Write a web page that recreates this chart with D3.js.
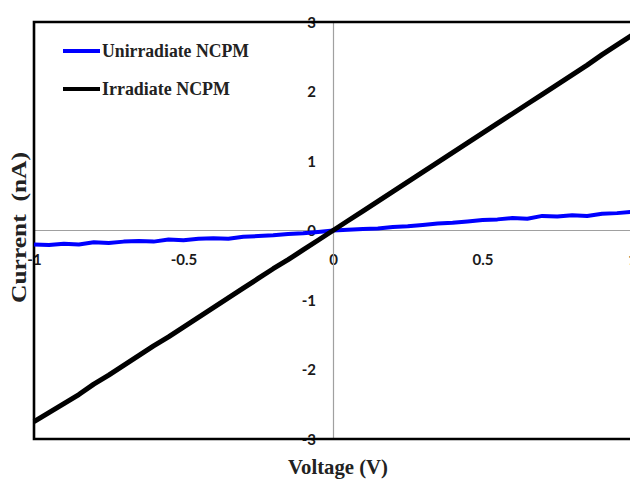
<!DOCTYPE html>
<html>
<head>
<meta charset="utf-8">
<script src="https://cdn.jsdelivr.net/npm/d3@7"></script>
<style>
  body { margin: 0; background: white; }
  svg { display: block; }
</style>
</head>
<body>
<svg id="chart" width="630" height="479"></svg>
<script>
const voltage = [-1.00, -0.95, -0.90, -0.85, -0.80, -0.75, -0.70, -0.65, -0.60, -0.55,
    -0.50, -0.45, -0.40, -0.35, -0.30, -0.25, -0.20, -0.15, -0.10, -0.05,
    0.00, 0.05, 0.10, 0.15, 0.20, 0.25, 0.30, 0.35, 0.40, 0.45,
    0.50, 0.55, 0.60, 0.65, 0.70, 0.75, 0.80, 0.85, 0.90, 0.95, 1.00];

const unirradiate = [-0.20, -0.21, -0.19, -0.20, -0.17, -0.18, -0.16, -0.15, -0.16, -0.13,
    -0.14, -0.12, -0.11, -0.12, -0.09, -0.08, -0.07, -0.05, -0.04, -0.02,
    0.00, 0.01, 0.02, 0.03, 0.05, 0.06, 0.08, 0.10, 0.11, 0.13,
    0.15, 0.16, 0.18, 0.17, 0.21, 0.20, 0.22, 0.21, 0.24, 0.25, 0.27];

const irradiate = [-2.75, -2.62, -2.49, -2.36, -2.21, -2.08, -1.94, -1.80, -1.66, -1.53,
    -1.39, -1.25, -1.11, -0.97, -0.83, -0.69, -0.55, -0.42, -0.28, -0.14,
    0.00, 0.14, 0.28, 0.42, 0.56, 0.70, 0.84, 0.98, 1.12, 1.26,
    1.40, 1.54, 1.68, 1.82, 1.96, 2.10, 2.24, 2.38, 2.53, 2.67, 2.81];

const xTicks = [-1, -0.5, 0, 0.5, 1];
const yTicks = [-3, -2, -1, 0, 1, 2, 3];

const seriesNames = ["Unirradiate NCPM", "Irradiate NCPM"];
const seriesColors = ["#0000ff", "#000000"];

const svg = d3.select("#chart");

const plotLeft = 34, plotTop = 22, plotBottom = 439, plotRight = 632;

const xScale = d3.scaleLinear().domain([-1, 1]).range([plotLeft, plotRight]);
const yScale = d3.scaleLinear().domain([-3, 3]).range([plotBottom, plotTop]);

// axes through the origin, plain hyphen minus like the original
const fmt = d => String(d);

const xAxis = svg.append("g")
    .attr("transform", `translate(0, ${yScale(0)})`)
    .call(d3.axisBottom(xScale).tickValues(xTicks).tickSize(0).tickPadding(24).tickFormat(fmt));

const yAxis = svg.append("g")
    .attr("transform", `translate(${xScale(0)}, 0)`)
    .call(d3.axisLeft(yScale).tickValues(yTicks).tickSize(0).tickPadding(17).tickFormat(fmt));

[xAxis, yAxis].forEach(g => {
    g.select(".domain").attr("stroke", "#a0a0a0").attr("stroke-width", 1.2);
    g.selectAll("text")
        .style("font-family", "Lato, 'Open Sans', sans-serif")
        .style("font-size", "15px")
        .style("font-weight", "bold")
        .attr("fill", "#1a1a1a");
});
xAxis.select(".domain").attr("d", `M${plotLeft},0H640`);
yAxis.selectAll("text").attr("dy", "0.36em");

// frame
svg.append("path")
    .attr("d", `M640,${plotTop}H${plotLeft}V${plotBottom}H640`)
    .attr("fill", "none")
    .attr("stroke", "black")
    .attr("stroke-width", 2.6);

const line = d3.line()
    .x((d, i) => xScale(voltage[i]))
    .y(d => yScale(d));

svg.append("path")
    .datum(unirradiate)
    .attr("d", line)
    .attr("fill", "none")
    .attr("stroke", seriesColors[0])
    .attr("stroke-width", 4)
    .attr("stroke-linejoin", "round");

svg.append("path")
    .datum(irradiate)
    .attr("d", line)
    .attr("fill", "none")
    .attr("stroke", seriesColors[1])
    .attr("stroke-width", 5)
    .attr("stroke-linejoin", "round");

// legend
const legendWidths = [147, 128];
const legend = svg.append("g");
seriesNames.forEach((name, i) => {
    const y = 51 + i * 38;
    legend.append("line")
        .attr("x1", 63).attr("x2", 100)
        .attr("y1", y).attr("y2", y)
        .attr("stroke", seriesColors[i])
        .attr("stroke-width", 4);
    legend.append("text")
        .attr("x", 102)
        .attr("y", y + 6)
        .attr("textLength", legendWidths[i])
        .attr("lengthAdjust", "spacingAndGlyphs")
        .style("font-family", "'Liberation Serif', 'Times New Roman', serif")
        .style("font-size", "18px")
        .style("font-weight", "bold")
        .attr("fill", "#222")
        .text(name);
});

svg.append("text")
    .attr("x", 288)
    .attr("y", 474)
    .attr("textLength", 100)
    .attr("lengthAdjust", "spacingAndGlyphs")
    .style("font-family", "'Liberation Serif', 'Times New Roman', serif")
    .style("font-size", "21px")
    .style("font-weight", "bold")
    .attr("fill", "#222")
    .text("Voltage (V)");

svg.append("text")
    .attr("transform", "translate(26, 303) rotate(-90)")
    .attr("textLength", 151)
    .attr("lengthAdjust", "spacingAndGlyphs")
    .style("font-family", "'Liberation Serif', 'Times New Roman', serif")
    .style("font-size", "21px")
    .style("font-weight", "bold")
    .style("white-space", "pre")
    .attr("fill", "#222")
    .text("Current  (nA)");
</script>
</body>
</html>
